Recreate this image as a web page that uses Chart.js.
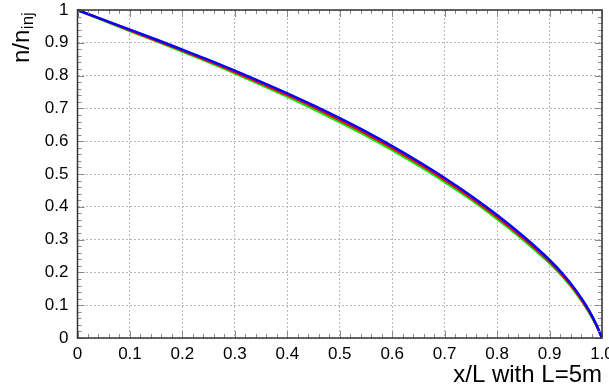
<!DOCTYPE html>
<html>
<head>
<meta charset="utf-8">
<script src="https://cdn.jsdelivr.net/npm/chart.js@4.4.1/dist/chart.umd.min.js"></script>
<style>
  html, body { margin: 0; padding: 0; background: #fff; }
  canvas { display: block; }
</style>
</head>
<body>
<canvas id="chart" width="609" height="392"></canvas>
<script>
const xValues = [0, 0.05, 0.1, 0.15, 0.2, 0.25, 0.3, 0.35, 0.4, 0.45, 0.5, 0.55, 0.6, 0.65, 0.7, 0.75, 0.8, 0.85, 0.9, 0.925, 0.95, 0.975, 0.99, 1.0];
const blueValues = [1.000, 0.970, 0.940, 0.910, 0.879, 0.848, 0.815, 0.781, 0.746, 0.709, 0.670, 0.629, 0.585, 0.538, 0.488, 0.434, 0.375, 0.310, 0.238, 0.196, 0.146, 0.085, 0.038, 0.000];
const redValues = [1.000, 0.969, 0.938, 0.907, 0.876, 0.844, 0.811, 0.776, 0.741, 0.704, 0.664, 0.623, 0.579, 0.532, 0.482, 0.428, 0.369, 0.304, 0.233, 0.191, 0.142, 0.082, 0.037, 0.000];
const greenValues = [1.000, 0.968, 0.936, 0.905, 0.873, 0.841, 0.807, 0.772, 0.736, 0.698, 0.658, 0.617, 0.573, 0.526, 0.476, 0.422, 0.363, 0.299, 0.228, 0.187, 0.138, 0.079, 0.035, 0.000];

const xTickLabels = ["0", "0.1", "0.2", "0.3", "0.4", "0.5", "0.6", "0.7", "0.8", "0.9", "1.0"];
const yTickLabels = ["0", "0.1", "0.2", "0.3", "0.4", "0.5", "0.6", "0.7", "0.8", "0.9", "1"];
const xTitle = "x/L with L=5m";
const yTitle = "n/n";
const yTitleSub = "inj";

const FONT = "'Liberation Sans', Arial, Helvetica, sans-serif";

function toPoints(ys) {
  return xValues.map((x, i) => ({ x: x, y: ys[i] }));
}

function line(values, color) {
  return {
    data: toPoints(values),
    borderColor: color,
    borderWidth: 2.5,
    pointRadius: 0,
    fill: false,
    cubicInterpolationMode: "monotone",
    clip: 4,
  };
}

// frame, inside ticks on all four sides and the y title with subscript
const rootFrame = {
  id: "rootFrame",
  afterDraw(chart) {
    const ctx = chart.ctx;
    const a = chart.chartArea;
    const xs = chart.scales.x;
    const ys = chart.scales.y;
    ctx.save();
    ctx.strokeStyle = "#8a8a8a";
    ctx.lineWidth = 1;
    for (let i = 0; i <= 50; i++) {
      const len = i % 5 === 0 ? 7 : 4;
      const px = Math.round(xs.getPixelForValue(i / 50)) + 0.5;
      ctx.beginPath();
      ctx.moveTo(px, a.bottom);
      ctx.lineTo(px, a.bottom - len);
      ctx.moveTo(px, a.top);
      ctx.lineTo(px, a.top + len);
      ctx.stroke();
      const py = Math.round(ys.getPixelForValue(i / 50)) + 0.5;
      ctx.beginPath();
      ctx.moveTo(a.left, py);
      ctx.lineTo(a.left + len, py);
      ctx.moveTo(a.right, py);
      ctx.lineTo(a.right - len, py);
      ctx.stroke();
    }
    ctx.strokeStyle = "#333";
    ctx.lineWidth = 1.5;
    ctx.strokeRect(a.left, a.top, a.right - a.left, a.bottom - a.top);

    // y title, rotated, top aligned like ROOT
    ctx.fillStyle = "#000";
    ctx.translate(28.5, 63);
    ctx.rotate(-Math.PI / 2);
    ctx.textAlign = "left";
    ctx.textBaseline = "alphabetic";
    ctx.font = "24px " + FONT;
    ctx.fillText(yTitle, 0, 0);
    const w = ctx.measureText(yTitle).width;
    ctx.font = "17px " + FONT;
    ctx.fillText(yTitleSub, w + 0.5, 4.5);
    ctx.restore();
  },
};

new Chart(document.getElementById("chart"), {
  type: "line",
  data: {
    datasets: [
      line(blueValues, "#0000ff"),
      line(redValues, "#ff0000"),
      line(greenValues, "#00ee00"),
    ],
  },
  options: {
    responsive: false,
    animation: false,
    events: [],
    layout: { padding: { top: 10, right: 7, left: 0, bottom: 0 } },
    plugins: {
      legend: { display: false },
      tooltip: { enabled: false },
    },
    scales: {
      x: {
        type: "linear",
        min: 0,
        max: 1,
        afterFit(scale) {
          scale.height = 54;
          scale.paddingLeft = 0;
          scale.paddingRight = 0;
        },
        ticks: {
          stepSize: 0.1,
          padding: 6,
          color: "#000",
          font: { family: FONT, size: 17 },
          maxRotation: 0,
          autoSkip: false,
          callback: (v, i) => xTickLabels[i],
        },
        grid: { color: "#b8b8b8", drawTicks: false, lineWidth: 1 },
        border: { display: false, dash: [2, 2] },
        title: {
          display: true,
          text: xTitle,
          align: "end",
          color: "#000",
          font: { family: FONT, size: 24 },
          padding: { top: 0, bottom: 2.5 },
        },
      },
      y: {
        type: "linear",
        min: 0,
        max: 1,
        afterFit(scale) {
          scale.width = 77.5;
          scale.paddingTop = 0;
          scale.paddingBottom = 0;
        },
        ticks: {
          stepSize: 0.1,
          padding: 9,
          color: "#000",
          font: { family: FONT, size: 17 },
          callback: (v, i) => yTickLabels[i],
        },
        grid: { color: "#b8b8b8", drawTicks: false, lineWidth: 1 },
        border: { display: false, dash: [2, 2] },
      },
    },
  },
  plugins: [rootFrame],
});
</script>
</body>
</html>
